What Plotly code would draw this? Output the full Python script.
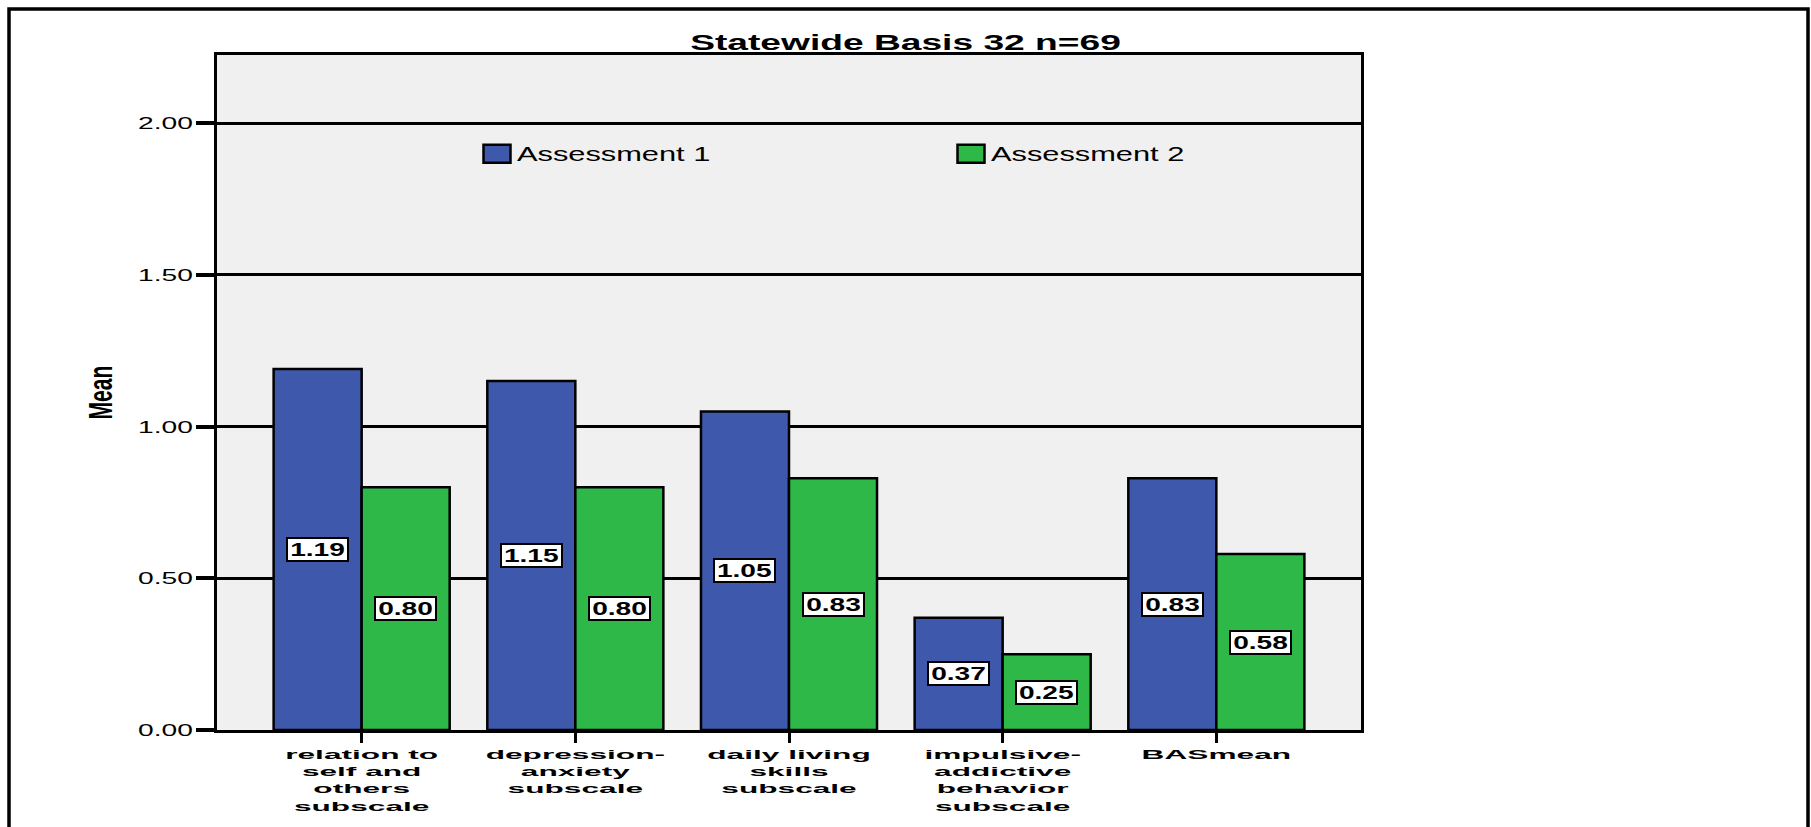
import plotly.graph_objects as go

# ---------------- data ----------------
categories = [
    "relation to self and others subscale",
    "depression-anxiety subscale",
    "daily living skills subscale",
    "impulsive-addictive behavior subscale",
    "BASmean",
]
tick_labels = [
    "relation to<br>self and<br>others<br>subscale",
    "depression-<br>anxiety<br>subscale",
    "daily living<br>skills<br>subscale",
    "impulsive-<br>addictive<br>behavior<br>subscale",
    "BASmean",
]
assessment1 = [1.19, 1.15, 1.05, 0.37, 0.83]
assessment2 = [0.80, 0.80, 0.83, 0.25, 0.58]
series_names = ["Assessment 1", "Assessment 2"]
y_ticks = [0.0, 0.5, 1.0, 1.5, 2.0]
title_text = "Statewide Basis 32 n=69"
y_title = "Mean"

# ---------------- layout constants ----------------
W, H = 1811, 827
ML, MR, MT, MB = 217, 450, 55, 97
PW, PH = W - ML - MR, H - MT - MB
BARGAP = 0.176
BLUE, GREEN = "#3E58AC", "#2EB848"
FONT = "Liberation Sans, Arial, sans-serif"


def px_x(x):
    return (x - ML) / PW


def px_y(y):
    return (H - MB - y) / PH


fig = go.Figure()
for name, vals, col in ((series_names[0], assessment1, BLUE), (series_names[1], assessment2, GREEN)):
    fig.add_bar(
        name=name,
        x=categories,
        y=vals,
        marker=dict(color=col, line=dict(color="black", width=2.5)),
        hoverinfo="skip",
    )

# value labels in white boxes at bar mid-height
off = (1 - BARGAP) / 4
annotations = []
for i, (a, b) in enumerate(zip(assessment1, assessment2)):
    for v, dx in ((a, -off), (b, off)):
        annotations.append(dict(
            x=i + dx, y=v / 2, xref="x", yref="y",
            text=f"{v:.2f}", showarrow=False,
            font=dict(family=FONT, size=19, color="black", weight="bold"),
            bgcolor="white", bordercolor="black", borderwidth=2, borderpad=1,
            width=57, height=19, align="center", valign="middle",
        ))

shapes = [dict(
    type="rect", xref="paper", yref="paper",
    x0=px_x(9), x1=px_x(1808), y0=px_y(860), y1=px_y(9),
    line=dict(color="black", width=3.5), fillcolor="rgba(0,0,0,0)", layer="above",
)]

fig.update_layout(
    width=W, height=H,
    margin=dict(l=ML, r=MR, t=MT, b=MB, autoexpand=False),
    paper_bgcolor="white", plot_bgcolor="#F0F0F0",
    barmode="group", bargap=BARGAP, bargroupgap=0,
    font=dict(family=FONT, color="black"),
    title=dict(
        text=title_text, xref="container", x=0.5, xanchor="center",
        yref="container", y=1 - 42.5 / H, yanchor="middle",
        font=dict(family=FONT, size=22, weight="bold", color="black"),
    ),
    legend=dict(
        orientation="h", xref="paper", yref="paper",
        x=px_x(477), xanchor="left", y=px_y(154), yanchor="middle",
        bgcolor="rgba(0,0,0,0)", borderwidth=0,
        entrywidth=429, entrywidthmode="pixels",
        font=dict(family=FONT, size=19.5, color="black"),
        traceorder="normal",
    ),
    xaxis=dict(
        type="category", range=[-0.677, 4.677],
        tickvals=categories, ticktext=tick_labels,
        ticks="outside", ticklen=10, tickwidth=3, tickcolor="black",
        tickfont=dict(family=FONT, size=13.3, weight="bold", color="black"),
        showline=True, linecolor="black", linewidth=2.5, mirror=True,
        showgrid=False, zeroline=False, automargin=False,
    ),
    yaxis=dict(
        range=[0, 2.225], tickvals=y_ticks, tickformat=".2f",
        ticks="outside", ticklen=18, tickwidth=3.5, tickcolor="black",
        tickfont=dict(family=FONT, size=17, color="black"),
        showline=True, linecolor="black", linewidth=2.5, mirror=True,
        showgrid=True, gridcolor="black", gridwidth=2.5, zeroline=False,
        title=dict(text=y_title, standoff=37,
                   font=dict(family=FONT, size=34, weight="bold", color="black")),
        automargin=False,
    ),
    annotations=annotations,
    shapes=shapes,
    showlegend=True,
)

# The reference's text is horizontally stretched; reproduce that by scaling each
# text element about its own anchor point (the text stays real SVG text).
post = """
document.documentElement.style.margin = '0';
document.body.style.margin = '0';
document.body.style.overflow = 'hidden';
var gd = document.getElementById('{plot_id}');
function stretch(sel, s){
  gd.querySelectorAll(sel).forEach(function(el){
    var cur = el.getAttribute('transform') || '';
    var base = (el.dataset.mine !== undefined && cur === el.dataset.mine) ? el.dataset.base : cur;
    var x = parseFloat(el.getAttribute('x')) || 0;
    var y = parseFloat(el.getAttribute('y')) || 0;
    var t = base + ' translate(' + x + ',' + y + ') scale(' + s + ',1) translate(' + (-x) + ',' + (-y) + ')';
    el.setAttribute('transform', t);
    el.dataset.base = base; el.dataset.mine = t;
  });
}
function restyleText(){
  stretch('.gtitle', 1.69);
  stretch('.legendtext', 1.58);
  stretch('.ytick text', 1.66);
  stretch('.xtick text', 2.38);
  stretch('.annotation-text', 1.48);
  stretch('.ytitle', 0.62);
  gd.querySelectorAll('.legend .legendpoints path').forEach(function(el){
    el.setAttribute('d', 'M13.5,9H-13.5V-9H13.5Z');
  });
}
restyleText();
gd.on('plotly_afterplot', restyleText);
"""

fig.write_html("out.html", post_script=post, config={"displayModeBar": False})
